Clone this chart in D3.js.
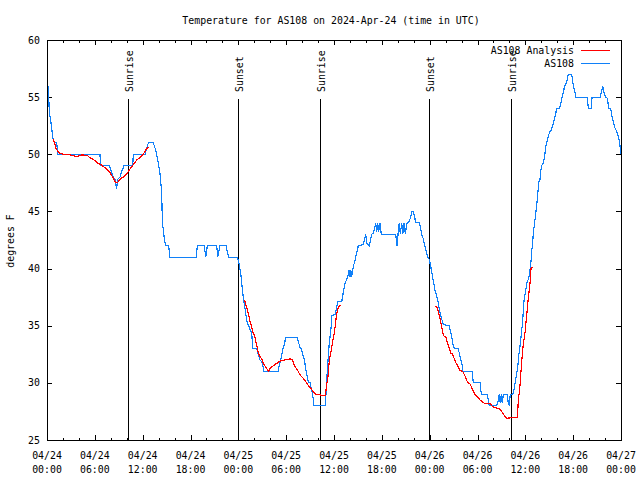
<!DOCTYPE html>
<html><head><meta charset="utf-8">
<script src="https://cdn.jsdelivr.net/npm/d3@7"></script>
<style>
html,body{margin:0;padding:0;background:#fff;}
svg{display:block;font-family:"DejaVu Sans Mono",monospace;}
</style></head><body>
<svg id="c" width="640" height="480"></svg>
<script>
const title = "Temperature for AS108 on 2024-Apr-24 (time in UTC)";
const yLabel = "degrees F";
const seriesNames = ["AS108 Analysis", "AS108"];
const seriesColors = ["#ff0000", "#1080f8"];
const yTicks = [25, 30, 35, 40, 45, 50, 55, 60];
const xTickHours = [0, 6, 12, 18, 24, 30, 36, 42, 48, 54, 60, 66, 72];
const xTickDates = ["04/24","04/24","04/24","04/24","04/25","04/25","04/25","04/25","04/26","04/26","04/26","04/26","04/27"];
const xTickTimes = ["00:00","06:00","12:00","18:00","00:00","06:00","12:00","18:00","00:00","06:00","12:00","18:00","00:00"];
const minorTickHours = [0,2,4,6,8,10,12,14,16,18,20,22,24,26,28,30,32,34,36,38,40,42,44,46,48,50,52,54,56,58,60,62,64,66,68,70,72];
const eventNames = ["Sunrise", "Sunset", "Sunrise", "Sunset", "Sunrise"];
const eventHours = [10.20, 23.90, 34.24, 47.95, 58.24];

// hours since 2024-04-24 00:00 UTC, temperature F
const obsSeries = [
[0.16,56],[0.29,53.7],[0.46,53],[0.59,52.3],[0.72,51.5],[0.92,51],[1.22,51],[1.34,50],
[6.65,50],[6.71,49],[7.81,49],[8.03,48.6],[8.32,48],[8.53,47.8],[8.74,47],[8.87,47.8],
[9.16,48],[9.37,48.5],[9.66,49],[10.75,49],[10.83,50],[12.29,50],[12.71,51],[13.33,51],
[13.67,50.3],[13.84,49.7],[14.01,49],[14.17,48.3],[14.34,47],[14.43,45.5],[14.46,44],
[14.59,43.4],[14.71,42.6],[14.89,42],[15.27,42],[15.39,41],[18.73,41],[18.85,42],
[19.73,42],[19.91,41],[20.11,42],[21.29,42],[21.41,41],[21.70,42],[22.45,42],[22.77,41],
[23.87,41],[24.00,40.75],[24.12,40.3],[24.30,39.6],[24.42,38.7],[24.55,38.0],[24.62,37.4],
[24.80,36.7],[24.96,35.9],[25.13,35.2],[25.38,34.9],[25.55,34.5],[25.68,34.4],[25.80,33],
[26.30,33],[26.47,32.6],[26.72,32.0],[26.88,31.9],[27.06,31.6],[27.22,31],[29.01,31],
[29.14,31.6],[29.32,32],[29.48,32.6],[29.64,33.1],[29.82,33.5],[29.94,34],[31.40,34],
[31.57,33.5],[31.74,33.1],[31.95,32.9],[32.15,32.3],[32.28,32.0],[32.49,31.1],[32.65,30.5],
[32.78,30.1],[32.99,30.0],[33.15,29.5],[33.28,29.1],[33.40,28.6],[33.45,28],[34.91,28],
[35.08,30.1],[35.25,32],[35.41,33.5],[35.59,34.5],[35.75,35.9],[36.16,36],[36.34,36.7],
[36.50,37.1],[36.97,37.1],[37.09,37.6],[37.26,38.3],[37.42,38.85],[37.59,39.0],[37.76,39.4],
[37.88,39.9],[38.01,39.3],[38.10,39.9],[38.22,39.3],[38.35,39.8],[38.42,40.2],[38.60,40.6],
[38.72,41.0],[38.89,41.5],[39.05,42],[39.68,42.1],[39.85,42.6],[39.98,43.0],[40.10,42.2],
[40.43,42],[40.60,42.6],[40.72,43],[40.93,43.1],[41.10,43.5],[41.23,44],[41.35,43.2],
[41.48,44],[41.60,43.2],[41.77,44],[41.93,43],[43.74,43],[43.90,42],[44.03,43],[44.19,44],
[44.32,43],[44.49,44],[44.62,43],[44.78,44],[44.95,43],[45.12,43.9],[45.41,44.1],[45.62,44.5],
[45.79,45],[45.95,45],[46.12,44.5],[46.25,44],[46.70,44],[46.88,43.5],[47.00,43],[47.20,42.6],
[47.38,42],[47.54,41.6],[47.70,41.1],[47.95,40.8],[48.13,40.2],[48.29,39.6],[48.46,38.9],
[48.67,38.1],[48.88,37.6],[49.08,37.0],[49.21,36.4],[49.39,35.9],[49.55,35.5],[49.71,35.1],
[50.46,35],[50.64,34.4],[50.80,33.9],[50.97,33.2],[51.18,33],[51.56,33],[51.72,32.6],
[51.90,32.0],[52.06,31.6],[52.15,31],[53.31,31],[53.48,30],[54.32,30],[54.48,29],[55.23,29],
[55.48,28],[56.41,28],[56.61,28.5],[56.73,29],[56.86,28.2],[56.98,29],[57.11,28.2],[57.24,29],
[57.74,29],[57.86,28.2],[57.99,28],[58.08,28.8],[58.20,29],[58.33,29],[58.49,29.1],[58.62,29.5],
[58.74,30.1],[58.92,30.8],[59.08,31.6],[59.17,32.4],[59.33,33.2],[59.50,34.3],[59.67,35.4],
[59.75,36.4],[59.84,37.25],[59.96,37.7],[60.09,38.3],[60.25,38.9],[60.42,39.1],[60.59,39.9],
[60.71,40.6],[60.80,41.5],[60.93,42.35],[61.00,43.1],[61.13,43.8],[61.25,44.5],[61.38,45.3],
[61.50,46.0],[61.55,46.4],[61.68,47.6],[61.84,47.8],[61.93,48.6],[62.09,49.06],[62.26,49.2],
[62.43,49.9],[62.59,50.8],[62.72,51.1],[62.88,51.6],[63.10,52.0],[63.26,52.1],[63.43,52.5],
[63.60,53.0],[63.76,53.4],[63.94,54.0],[64.26,54.0],[64.44,54.4],[64.60,55.0],[64.76,55.4],
[64.94,56.0],[65.19,56.3],[65.39,57.0],[65.82,57.0],[66.02,56],[66.36,55],[67.77,55],[67.90,54],
[68.24,54],[68.37,55],[69.37,55],[69.53,55.4],[69.71,56],[69.87,55.4],[70.04,55],[70.29,54.9],
[70.46,54],[70.71,54],[70.88,53.3],[71.04,52.8],[71.25,52.3],[71.47,52.0],[71.63,51.6],
[71.79,51.2],[71.92,50.5],[71.97,50.0]
];

// null = gap between analysis runs
const anaSeries = [
[0.72,51.3],[0.92,51.1],[1.13,50.5],[1.54,50.1],[2.04,50.0],[2.89,49.95],[3.73,49.8],[4.35,49.95],
[5.06,49.9],[5.39,49.7],[5.90,49.5],[6.44,49.2],[6.86,49.05],[7.49,48.7],[7.90,48.4],[8.24,48.0],
[8.53,47.6],[8.74,47.5],[8.94,47.6],[9.24,47.9],[9.57,48.0],[10.00,48.3],[10.41,48.7],[10.83,49.1],
[11.25,49.5],[11.67,49.7],[12.08,50.0],[12.51,50.5],[12.79,50.6],
null,
[24.80,37.25],[24.96,36.8],[25.13,36.4],[25.30,35.9],[25.46,35.4],[25.68,34.9],[25.80,34.5],
[26.05,34.1],[26.30,33.3],[26.51,32.6],[26.72,32.3],[26.93,32.1],[27.13,31.7],[27.56,31.25],
[27.76,31.0],[27.97,31.25],[28.39,31.5],[28.81,31.7],[29.23,31.9],[29.85,32.0],[30.48,32.1],
[30.82,32.0],[30.98,31.6],[31.23,31.3],[31.52,31.0],[31.74,30.7],[32.02,30.5],[32.36,30.2],
[32.65,29.9],[32.99,29.6],[33.33,29.3],[33.71,29.0],[34.24,28.95],[34.58,28.9],[34.91,28.9],
[35.00,29.4],[35.08,29.8],[35.29,30.8],[35.41,32.0],[35.59,32.6],[35.75,33.3],[35.91,33.9],
[36.09,34.6],[36.25,35.6],[36.41,36.3],[36.59,36.7],[36.84,36.8],
null,
[48.67,36.7],[48.96,36.6],[49.13,36.1],[49.30,35.6],[49.46,35.1],[49.64,34.4],[49.80,34.1],
[50.05,34.0],[50.21,33.5],[50.43,33.1],[50.64,32.6],[50.89,32.5],[51.09,32.1],[51.30,31.75],
[51.59,31.4],[51.81,31.1],[52.15,31.0],[52.44,30.6],[52.72,30.1],[53.06,29.9],[53.40,29.4],
[53.69,29.0],[53.98,28.8],[54.32,28.5],[54.65,28.3],[54.94,28.2],[55.57,28.2],[55.91,27.9],
[56.41,27.8],[56.82,27.7],[57.04,27.5],[57.32,27.2],[57.66,26.9],[58.29,26.95],[58.99,26.95],
[59.12,28.4],[59.33,29.8],[59.54,31.85],[59.75,33.4],[59.96,34.4],[60.17,35.9],[60.37,37.4],
[60.59,38.7],[60.71,40.0],[60.88,40.15]
];

const t0 = Date.UTC(2024, 3, 24);
const toDate = h => new Date(t0 + h * 3600e3);

const L = 47, R = 621, T = 40, B = 440;
const x = d3.scaleUtc().domain([toDate(0), toDate(72)]).range([L, R]);
const y = d3.scaleLinear().domain([25, 60]).range([B, T]);

const svg = d3.select("#c");
const FS = 9.9;

// frame
svg.append("rect").attr("x", L).attr("y", T).attr("width", R - L).attr("height", B - T)
  .attr("fill", "none").attr("stroke", "#000").attr("shape-rendering", "crispEdges");

// x ticks (bottom and top, inward)
const g = svg.append("g").attr("stroke", "#000").attr("shape-rendering", "crispEdges");
minorTickHours.forEach(h => {
  const major = xTickHours.includes(h);
  const len = major ? 5 : 2.5;
  const xx = Math.round(x(toDate(h))) + 0.5;
  g.append("line").attr("x1", xx).attr("x2", xx).attr("y1", B).attr("y2", B - len);
  g.append("line").attr("x1", xx).attr("x2", xx).attr("y1", T).attr("y2", T + len);
});
// y ticks (left and right, inward)
yTicks.forEach(v => {
  const yy = Math.round(y(v)) + 0.5;
  g.append("line").attr("x1", L).attr("x2", L + 5).attr("y1", yy).attr("y2", yy);
  g.append("line").attr("x1", R).attr("x2", R - 5).attr("y1", yy).attr("y2", yy);
});

// y tick labels
svg.append("g").selectAll("text").data(yTicks).join("text")
  .attr("x", 40).attr("y", d => y(d) + 3.6).attr("text-anchor", "end")
  .attr("font-size", FS).text(d => d);

// x tick labels
const xl = svg.append("g").attr("font-size", FS).attr("text-anchor", "middle");
xTickHours.forEach((h, i) => {
  const xx = x(toDate(h));
  xl.append("text").attr("x", xx).attr("y", 459).text(xTickDates[i]);
  xl.append("text").attr("x", xx).attr("y", 473).text(xTickTimes[i]);
});

// title
svg.append("text").attr("x", 331).attr("y", 24).attr("text-anchor", "middle")
  .attr("font-size", FS).text(title);

// y label
svg.append("text").attr("transform", "translate(14,241) rotate(-90)")
  .attr("text-anchor", "middle").attr("font-size", FS).text(yLabel);

// sunrise / sunset markers
const ev = svg.append("g");
eventHours.forEach((h, i) => {
  const xx = Math.round(x(toDate(h))) + 0.5;
  ev.append("line").attr("x1", xx).attr("x2", xx).attr("y1", 99).attr("y2", B)
    .attr("stroke", "#000").attr("shape-rendering", "crispEdges");
  ev.append("text").attr("transform", `translate(${xx + 4.5},92) rotate(-90)`)
    .attr("font-size", FS).text(eventNames[i]);
});

// data lines
const line = d3.line().defined(d => d != null)
  .x(d => x(toDate(d[0]))).y(d => y(d[1]));

svg.append("path").datum(obsSeries).attr("d", line)
  .attr("fill", "none").attr("stroke", seriesColors[1]).attr("stroke-width", 1.2)
  .attr("shape-rendering", "crispEdges");
svg.append("path").datum(anaSeries).attr("d", line)
  .attr("fill", "none").attr("stroke", seriesColors[0]).attr("stroke-width", 1.2)
  .attr("shape-rendering", "crispEdges");

// legend
const lg = svg.append("g").attr("font-size", FS);
[50, 63].forEach((yy, i) => {
  lg.append("text").attr("x", 574).attr("y", yy + 3.6).attr("text-anchor", "end").text(seriesNames[i]);
  lg.append("line").attr("x1", 581).attr("x2", 610).attr("y1", yy + 0.5).attr("y2", yy + 0.5)
    .attr("stroke", seriesColors[i]).attr("shape-rendering", "crispEdges");
});
</script>
</body></html>
